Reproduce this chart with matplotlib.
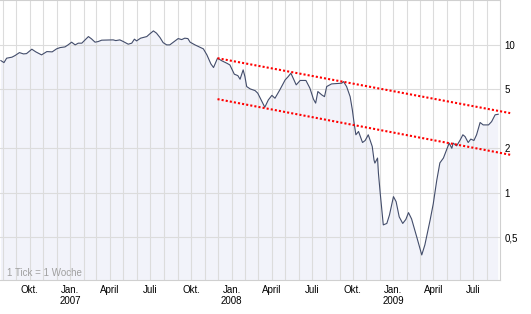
import pandas as pd
import matplotlib
matplotlib.use('Agg')
import matplotlib.pyplot as plt
import matplotlib.dates as mdates
from matplotlib.ticker import FixedLocator, NullFormatter

# Kursverlauf (wöchentlich, Wendepunkte)
dates = [
    '2006-07-28', '2006-08-04', '2006-08-10', '2006-08-22', '2006-08-29', '2006-09-08',
    '2006-09-17', '2006-09-24', '2006-10-06', '2006-10-15', '2006-10-28', '2006-11-09',
    '2006-11-21', '2006-12-01', '2006-12-09', '2006-12-20', '2006-12-27',
    '2007-01-04', '2007-01-12', '2007-01-19', '2007-01-27', '2007-02-11', '2007-02-18',
    '2007-02-26', '2007-03-05', '2007-03-13', '2007-04-08', '2007-04-14', '2007-04-23',
    '2007-05-01', '2007-05-12', '2007-05-20', '2007-05-26', '2007-05-31', '2007-06-09',
    '2007-06-23', '2007-06-29', '2007-07-08', '2007-07-15', '2007-07-23', '2007-07-30',
    '2007-08-07', '2007-08-14', '2007-08-22', '2007-09-02', '2007-09-10', '2007-09-17',
    '2007-09-24', '2007-09-29', '2007-10-10', '2007-10-18', '2007-10-29', '2007-11-06',
    '2007-11-15', '2007-11-21', '2007-11-30', '2007-12-10', '2007-12-21', '2007-12-28',
    '2008-01-07', '2008-01-15', '2008-01-20', '2008-01-27', '2008-01-31', '2008-02-04',
    '2008-02-12', '2008-02-23', '2008-02-29', '2008-03-09', '2008-03-16', '2008-03-24',
    '2008-04-01', '2008-04-08', '2008-04-19', '2008-05-01', '2008-05-08', '2008-05-14',
    '2008-05-26', '2008-06-04', '2008-06-17', '2008-06-26', '2008-07-04', '2008-07-09',
    '2008-07-14', '2008-07-23', '2008-07-29', '2008-08-03', '2008-08-14', '2008-09-06',
    '2008-09-10', '2008-09-17', '2008-09-25', '2008-09-30', '2008-10-04', '2008-10-08',
    '2008-10-14', '2008-10-23', '2008-10-29', '2008-11-05', '2008-11-14', '2008-11-18',
    '2008-11-20', '2008-11-26', '2008-11-28', '2008-12-02', '2008-12-09', '2008-12-17',
    '2008-12-23',
    '2009-01-01', '2009-01-07', '2009-01-14', '2009-01-22', '2009-01-29', '2009-02-04',
    '2009-02-11', '2009-02-23', '2009-03-06', '2009-03-13', '2009-03-25', '2009-04-01',
    '2009-04-09', '2009-04-16', '2009-04-24', '2009-05-01', '2009-05-07', '2009-05-13',
    '2009-05-16', '2009-05-24', '2009-06-01', '2009-06-07', '2009-06-12', '2009-06-19',
    '2009-06-25', '2009-07-02', '2009-07-08', '2009-07-16', '2009-07-23', '2009-08-04',
    '2009-08-11', '2009-08-19', '2009-08-26',
]
kurs = [
    7.83, 7.59, 8.13, 8.26, 8.47, 8.87,
    8.69, 8.73, 9.35, 8.97, 8.56, 9.01,
    8.97, 9.40, 9.59, 9.69, 10.0,
    10.43, 10.0, 10.27, 10.27, 11.38, 10.98,
    10.43, 10.53, 10.76, 10.81, 10.69, 10.81,
    10.53, 10.11, 10.27, 10.93, 10.64, 11.10,
    11.38, 11.81, 12.43, 12.0, 11.20, 10.36,
    10.0, 10.0, 10.43, 11.03, 10.86, 11.10,
    11.03, 10.43, 10.0, 9.74, 9.40, 8.56,
    7.44, 7.03, 8.13, 7.80, 7.52, 7.32,
    6.34, 6.20, 5.86, 6.78, 6.11, 5.23,
    5.04, 4.91, 4.72, 4.18, 3.79, 4.25,
    4.56, 4.36, 4.97, 5.80, 6.11, 6.44,
    5.37, 5.75, 5.75, 5.10, 4.30, 4.04,
    4.84, 4.59, 4.47, 5.23, 5.45, 5.51,
    5.65, 5.23, 4.47, 3.64, 2.96, 2.47,
    2.60, 2.19, 2.26, 2.47, 2.06, 1.67,
    1.59, 1.72, 1.36, 1.0, 0.608, 0.622,
    0.710,
    0.944, 0.873, 0.689, 0.622, 0.662, 0.736,
    0.667, 0.500, 0.381, 0.445, 0.657, 0.843,
    1.22, 1.595, 1.72, 1.95, 2.17, 2.00,
    2.17, 2.08, 2.28, 2.47, 2.40, 2.19,
    2.31, 2.26, 2.47, 2.99, 2.88, 2.88,
    3.03, 3.37, 3.40,
]

# Trendkanal (rot gepunktet)
trend_dates = ['2007-11-30', '2009-09-22']
trend_oben = [8.13, 3.46]
trend_unten = [4.30, 1.81]

y_ticks = [10, 5, 2, 1, 0.5]
y_labels = ['10', '5', '2', '1', '0,5']
monat_namen = {1: 'Jan.', 4: 'April', 7: 'Juli', 10: 'Okt.'}


def main():
    plt.rcParams['font.family'] = ['Liberation Sans', 'DejaVu Sans']
    x = pd.to_datetime(dates)
    tx = pd.to_datetime(trend_dates)

    fig = plt.figure(figsize=(5.31, 3.14), dpi=100)
    ax = fig.add_axes([0, 1 - 280 / 314, 500 / 531, 280 / 314])

    ax.fill_between(x, kurs, 0.01, color='#f2f3fa', linewidth=0)
    ax.plot(x, kurs, color='#434d6b', linewidth=0.8)
    ax.plot(tx, trend_oben, color='#ff0000', linewidth=1.5, linestyle=(0, (1, 1)),
            clip_on=False, zorder=3)
    ax.plot(tx, trend_unten, color='#ff0000', linewidth=1.5, linestyle=(0, (1, 1)),
            clip_on=False, zorder=3)

    ax.set_yscale('log')
    ax.set_ylim(0.258, 20.1)
    ax.set_xlim(pd.Timestamp('2006-07-26'), pd.Timestamp('2009-08-30'))

    ax.yaxis.tick_right()
    ax.yaxis.set_major_locator(FixedLocator(y_ticks))
    ax.set_yticklabels(y_labels)
    ax.yaxis.set_minor_locator(FixedLocator([]))
    ax.yaxis.set_minor_formatter(NullFormatter())

    # Beschriftung je Quartal, Gitter jeden Monat
    quartale = pd.date_range('2006-10-01', '2009-07-01', freq='QS-JAN')
    labels = []
    for d in quartale:
        s = monat_namen[d.month]
        if d.month == 1:
            s += '\n' + str(d.year)
        labels.append(s)
    ax.set_xticks(quartale)
    ax.set_xticklabels(labels, linespacing=1.2)
    monate = pd.date_range('2006-08-01', '2009-08-01', freq='MS')
    ax.xaxis.set_minor_locator(FixedLocator(mdates.date2num(monate)))

    ax.tick_params(axis='both', which='both', length=0, labelsize=7, colors='#000000')
    ax.tick_params(axis='x', pad=3.4)
    ax.tick_params(axis='y', pad=3)
    ax.grid(True, which='both', axis='x', color='#dcdcdc', linewidth=0.8)
    ax.grid(True, which='major', axis='y', color='#dcdcdc', linewidth=0.8)

    for side in ['top', 'right', 'bottom']:
        ax.spines[side].set_color('#d0d0d0')
        ax.spines[side].set_linewidth(0.8)
    ax.spines['left'].set_visible(False)

    ax.text(7, 314 - 273, '1 Tick = 1 Woche', transform=None, fontsize=7,
            color='#a0a0a0', va='center', ha='left')

    fig.savefig('out.png', dpi=100)


if __name__ == "__main__":
    main()
